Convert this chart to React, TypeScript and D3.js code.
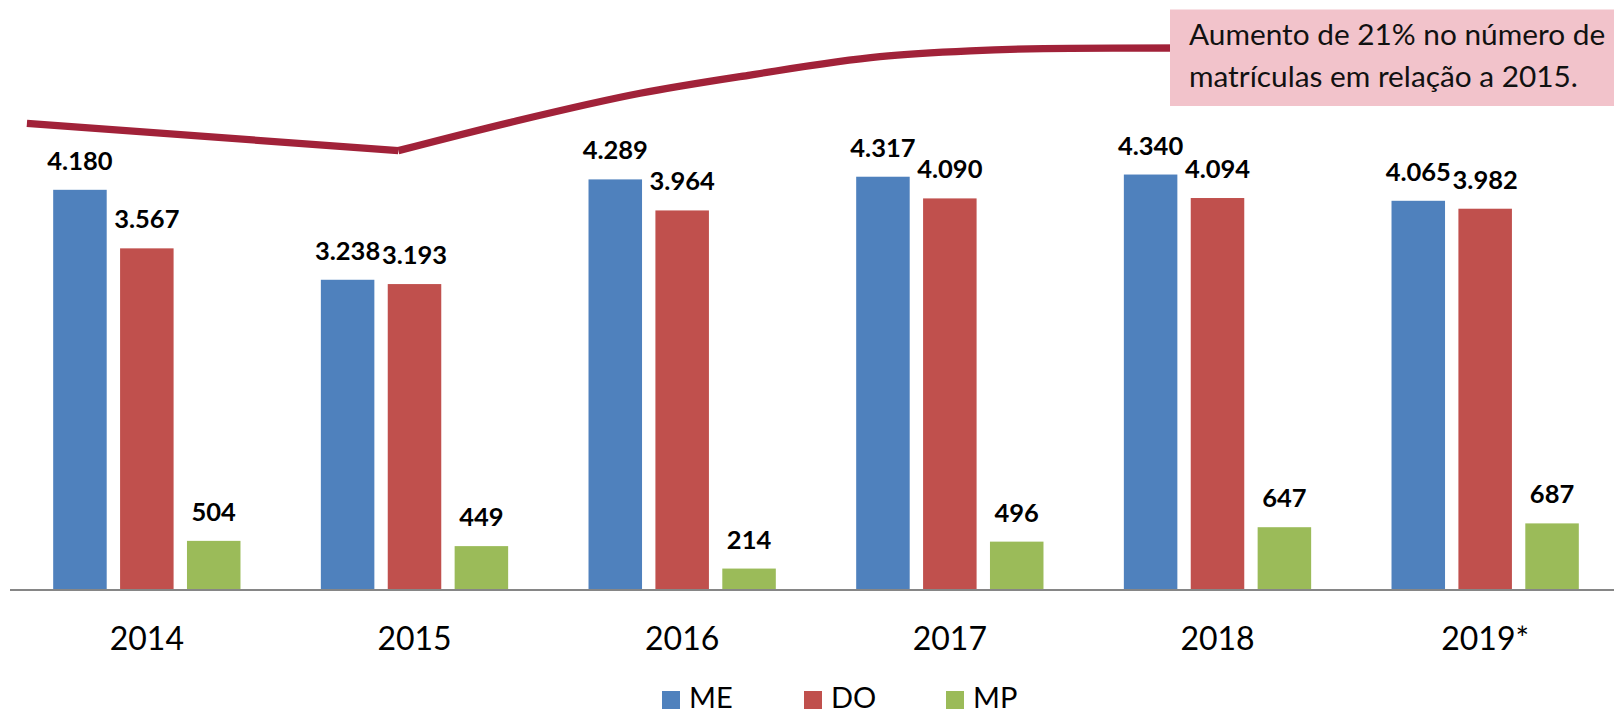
import React from "react";
import * as d3 from "d3";

const years = ["2014", "2015", "2016", "2017", "2018", "2019*"];
const seriesNames = ["ME", "DO", "MP"];
const meValues = [4180, 3238, 4289, 4317, 4340, 4065];
const doValues = [3567, 3193, 3964, 4090, 4094, 3982];
const mpValues = [504, 449, 214, 496, 647, 687];
const seriesColors = ["#4F81BD", "#C0504D", "#9BBB59"];

// decorative trend arrow, in (year index, value) units
const trendPos = [-0.448, 0.9396, 1.368, 1.843, 2.254, 2.739, 3.076, 3.449, 3.897];
const trendVal = [4876, 4590, 4893, 5191, 5382, 5574, 5634, 5662, 5665];

const annotationLines = ["Aumento de 21% no número de", "matrículas em relação a 2015."];

const W = 1614;
const H = 711;
const FONT = "Lato, 'Open Sans', 'Liberation Sans', sans-serif";

export default function App() {
  const values = [meValues, doValues, mpValues];
  const fmt = d3
    .formatLocale({ decimal: ",", thousands: ".", grouping: [3], currency: ["", ""] })
    .format(",d");

  const x0 = d3.scaleBand<string>().domain(years).range([13, 1619]).padding(0);
  const groupWidth = 187.3;
  const x1 = d3.scaleBand<string>().domain(seriesNames).range([0, groupWidth]).paddingInner(0.2).paddingOuter(0);
  const y = d3.scaleLinear().domain([0, 5000]).range([589, 111.5]);
  const bw = x0.bandwidth();
  const xi = d3
    .scaleLinear()
    .domain([0, years.length - 1])
    .range([(x0(years[0]) as number) + bw / 2, (x0(years[years.length - 1]) as number) + bw / 2]);

  const pts: [number, number][] = trendPos.map((p, i) => [xi(p), y(trendVal[i])]);
  const lineLinear = d3.line().curve(d3.curveLinear);
  const lineCurve = d3.line().curve(d3.curveMonotoneX);

  const legendX = d3.scaleLinear().domain([0, 1]).range([662, 804]);

  return (
    <svg
      width={W}
      height={H}
      style={{ position: "absolute", left: 0, top: 0, background: "#fff" }}
      fontFamily={FONT}
    >
      {/* bars */}
      {years.map((yr, gi) => {
        const gx = (x0(yr) as number) + (bw - groupWidth) / 2;
        return (
          <g key={yr}>
            {seriesNames.map((s, si) => {
              const v = values[si][gi];
              const bx = gx + (x1(s) as number);
              return (
                <g key={s}>
                  <rect x={bx} y={y(v)} width={x1.bandwidth()} height={y(0) - y(v)} fill={seriesColors[si]} />
                  <text
                    x={bx + x1.bandwidth() / 2}
                    y={y(v) - 20}
                    textAnchor="middle"
                    fontWeight="bold"
                    fontSize={25.5}
                    fill="#000"
                  >
                    {fmt(v)}
                  </text>
                </g>
              );
            })}
            <text x={(x0(yr) as number) + bw / 2} y={649.5} textAnchor="middle" fontSize={32} fill="#000">
              {yr}
            </text>
          </g>
        );
      })}
      {/* axis */}
      <line x1={10} x2={W} y1={y(0) + 1} y2={y(0) + 1} stroke="#868686" strokeWidth={2} />

      {/* trend arrow */}
      <path d={lineLinear(pts.slice(0, 2)) || ""} fill="none" stroke="#A12239" strokeWidth={7.3} />
      <path d={lineCurve(pts.slice(1)) || ""} fill="none" stroke="#A12239" strokeWidth={7.3} />

      {/* annotation */}
      <rect x={1170} y={9.5} width={W - 1170} height={96.5} fill="#F2C3CB" />
      {annotationLines.map((t, i) => (
        <text key={i} x={1189} y={45 + i * 42} fontSize={29.8} fill="#111">
          {t}
        </text>
      ))}

      {/* legend */}
      {seriesNames.map((s, i) => (
        <g key={s}>
          <rect x={legendX(i)} y={691} width={18} height={18} fill={seriesColors[i]} />
          <text x={legendX(i) + 27} y={708} fontSize={29} fill="#000">
            {s}
          </text>
        </g>
      ))}
    </svg>
  );
}
